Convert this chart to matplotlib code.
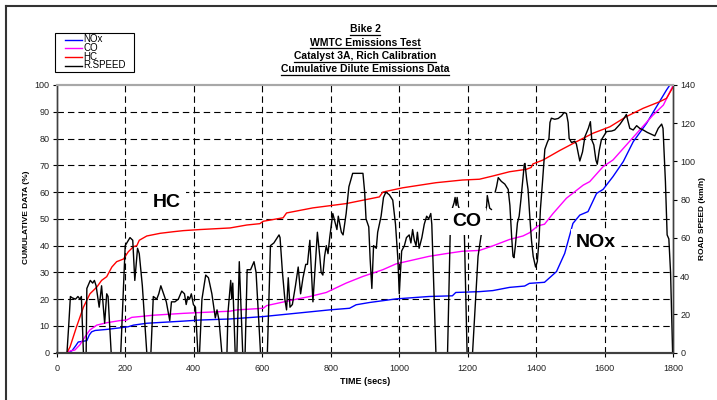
import numpy as np
import matplotlib
matplotlib.use("Agg")
import matplotlib.pyplot as plt
from matplotlib.lines import Line2D
from matplotlib.patches import Rectangle

plt.rcParams['font.family'] = ['Liberation Sans', 'DejaVu Sans']

# ---------------- data ----------------
title_lines = ["Bike 2", "WMTC Emissions Test", "Catalyst 3A, Rich Calibration",
               "Cumulative Dilute Emissions Data"]
series_names = ["NOx", "CO", "HC", "R.SPEED"]
series_colors = ['#0000FF', '#FF00FF', '#FF0000', 'black']

hc_t = [0, 30, 39, 58, 78, 97, 117, 131, 146, 161, 175, 195, 209, 224, 234, 241, 263, 302,
        341, 370, 418, 506, 555, 593, 603, 661, 671, 748, 845, 942, 952, 1010, 1107, 1184,
        1234, 1273, 1322, 1371, 1385, 1390, 1420, 1468, 1517, 1566, 1615, 1663, 1712, 1761,
        1780, 1800]
hc_v = [0, 0, 2.2, 9.7, 17, 22, 24.5, 27, 28.4, 32, 34, 35, 37.7, 39.6, 40, 42, 43.6, 44.6,
        45.2, 45.6, 46, 46.6, 47.7, 48.2, 49.1, 50.4, 52.2, 54.1, 55.7, 58.2, 60, 61.6, 63.5,
        64.5, 64.8, 66, 67.6, 68.5, 69.2, 70.5, 72, 75.5, 78.8, 82, 84.4, 88.2, 91.3, 93.8,
        95, 99.4]

co_t = [0, 30, 40, 53, 68, 83, 97, 117, 146, 185, 204, 219, 243, 282, 370, 418, 506, 526,
        554, 603, 613, 700, 739, 787, 845, 894, 952, 991, 1087, 1136, 1184, 1234, 1273, 1322,
        1361, 1380, 1405, 1424, 1449, 1488, 1537, 1556, 1595, 1624, 1663, 1702, 1741, 1771,
        1800]
co_v = [0, 0, 0.7, 1, 3, 6, 8.5, 10.3, 11.2, 12, 12.2, 13.2, 13.5, 14, 14.7, 15, 15.5, 16,
        16.2, 16.6, 17.6, 20, 21, 22.5, 26, 28.5, 31, 33.2, 36, 37, 37.9, 38.2, 39.9, 42.3,
        43.6, 44.8, 47.4, 48, 52, 57.7, 62.6, 63.9, 69.5, 72, 77.6, 83.2, 88.8, 92.5, 100]

nox_t = [0, 35, 45, 55, 63, 88, 95, 102, 112, 146, 185, 209, 224, 263, 370, 418, 506, 603,
         700, 797, 855, 874, 913, 991, 1087, 1155, 1165, 1233, 1273, 1322, 1366, 1380, 1424,
         1459, 1483, 1507, 1527, 1551, 1576, 1595, 1624, 1654, 1683, 1722, 1751, 1780, 1790,
         1800]
nox_v = [0, 0, 0.8, 2.5, 4, 4.5, 6.6, 7.8, 8.3, 8.7, 9.3, 9.7, 10.3, 11, 11.8, 12.2, 12.6,
         13.5, 14.75, 16, 16.6, 17.9, 18.75, 20.1, 21, 21.25, 22.5, 22.8, 23.2, 24.4, 24.9,
         25.9, 26.3, 30.3, 37.1, 48.3, 51.4, 52.7, 59.5, 61, 65.8, 71.4, 78.8, 85.7, 91.9,
         98.1, 100, 100]

# road speed, read in % of the left axis (converted to km/h below); NaN = gap in the trace
spd_t = [0, 30, 35, 40, 45, 55, 62, 68, 72, 78, 86, 88, 98, 105, 110, 115, 124, 131, 140,
         146, 150, 159, 187, 200, 214, 222, 228, 236, 241, 250, 263, 275, 282, 292, 298, 304,
         312, 320, 330, 335, 345, 355, 365, 373, 378, 383, 388, 393, 399, 405, 412, 417, 424,
         435, 443, 453, 463, 468, 474, 482, 497, 500, 508, 511, 514, 521, 526, 533, 543, 550,
         556, 566, 576, 582, 595, 615, 624, 634, 649, 652, 659, 666, 671, 676, 681, 688, 697,
         705, 712, 719, 727, 732, 739, 748, 761, 768, 772, 777, 782, 787, 792, 797, 806, 812,
         818, 822, 831, 836, 845, 853, 864, 894, 899, 903, 911, 915, 920, 925, 933, 937, 947,
         954, 961, 971, 981, 989, 996, 1000, 1007, 1015, 1021, 1029, 1034, 1039, 1044, 1049,
         1053, 1058, 1066, 1073, 1080, 1086, 1092, 1095, 1107, 1141, 1150, 1160, 1163,
         1166, 1169, 1172, 1180, 1190, 1198, 1214, 1230, 1238, 1248, 1255, 1257, 1264, 1269,
         1275, 1280, 1284, 1289, 1298, 1308, 1313, 1318, 1323, 1328, 1332, 1335, 1339, 1345,
         1350, 1355, 1360, 1365, 1367, 1372, 1376, 1381, 1386, 1391, 1398, 1403, 1408, 1412,
         1418, 1425, 1432, 1437, 1440, 1444, 1454, 1464, 1474, 1481, 1488, 1493, 1496, 1503,
         1512, 1517, 1527, 1535, 1542, 1552, 1558, 1562, 1568, 1574, 1578, 1584, 1590, 1600,
         1605, 1620, 1629, 1644, 1656, 1663, 1668, 1673, 1683, 1693, 1702, 1712, 1724, 1736,
         1746, 1756, 1766, 1770, 1777, 1782, 1787, 1792, 1798, 1800]
spd_pct = [0, 0, 10, 21, 20.5, 20, 21, 20, 21, 0, 0, 24, 27, 26, 27, 25, 17, 25, 11, 22, 21,
           0, 0, 40, 43, 42, 27, 39, 37, 25, 0, 0, 21, 20, 22, 25, 22, 19, 12, 19, 19, 20, 23,
           22, 18, 21, 20, 22, 18, 17, 0, 0, 20, 29, 28, 22, 13, 16, 12, 0, 0, 15, 27, 20, 26,
           0, 0, 34, 0, 0, 31, 31, 34, 30, 0, 0, 40, 41, 44, 43, 30, 20, 16, 28, 17, 18, 25, 32,
           22, 28, 33, 33, 42, 19, 45, 36, 30, 29, 36, 40, 37, 43, 52, 49, 46, 51, 45, 44, 52,
           62, 67, 67, 60, 50, 47, 35, 24, 40, 39, 45, 51, 58, 60, 59, 57, 48, 35, 22, 38, 40,
           43, 44, 41, 46, 42, 40, 45, 39, 43, 48, 51, 50, 52, 48, 0, 0, 52, 56, 58,
           55, 58, 55, 52, 45, 0, 0, 36, 43, 51, 54.7, 58.7, 54, 53.5, np.nan, 60, 62,
           65.4, 64, 63, 62, 61, 55, 43.5, 36, 35.5, 40, 48.5, 51, 57, 63.5, 70.4, 70.7, 64.7,
           61, 51, 42, 36, 32, 34, 42, 53.5, 63.5, 76, 78.5, 80, 86, 87.6, 87.2, 87.5, 88.5,
           89.7, 89.4, 86, 80, 78.5, 79, 78, 71.6, 75, 80.7, 83.8, 86.3, 79.5, 77.6, 72, 70.4,
           75.7, 79.5, 81.6, 82.6, 82.8, 83.2, 85.3, 87.5, 89, 86.3, 83.8, 83.2, 84.8, 83.8,
           83.2, 82.3, 81.6, 81, 83.8, 85.4, 83.8, 63.9, 44, 42.5, 30, 0, 0]
spd_v = [p * 1.4 for p in spd_pct]

left_ticks = list(range(0, 101, 10))
right_ticks = list(range(0, 141, 20))
x_ticks = list(range(0, 1801, 200))

# ---------------- figure ----------------
W, H = 717, 400
fig = plt.figure(figsize=(W / 100, H / 100), dpi=100)

def fx(px):
    return px / W

def fy(py):
    return 1 - py / H

L, R, T, B = 56.7, 673.3, 85, 352.7
ax = fig.add_axes([fx(L), fy(B), fx(R) - fx(L), fy(T) - fy(B)])
ax2 = ax.twinx()

ax.set_xlim(0, 1800)
ax.set_ylim(0, 100)
ax2.set_ylim(0, 140)

dash = (0, (5.8, 3.6))
for v in range(10, 100, 10):
    ax.axhline(v, color='black', lw=0.8, linestyle=dash, zorder=0.5)
for v in range(200, 1800, 200):
    ax.axvline(v, color='black', lw=0.8, linestyle=dash, zorder=0.5)

ax.plot(nox_t, nox_v, color=series_colors[0], lw=1.0, zorder=3)
ax.plot(co_t, co_v, color=series_colors[1], lw=1.0, zorder=3)
ax.plot(hc_t, hc_v, color=series_colors[2], lw=1.0, zorder=3)
ax2.plot(spd_t, spd_v, color=series_colors[3], lw=1.0, zorder=2)

ax.set_xticks(x_ticks)
ax.set_yticks(left_ticks)
ax2.set_yticks(right_ticks)
ax.set_xticklabels([str(v) for v in x_ticks])
for a in (ax, ax2):
    a.tick_params(labelsize=6.5, length=3, width=0.8, color='black', direction='out',
                  labelcolor='#222222', pad=2)
ax.tick_params(axis='x', pad=5)

for a in (ax, ax2):
    a.spines['top'].set_color('#a8a8a8')
    a.spines['top'].set_linewidth(1.5)
    a.spines['bottom'].set_color('#404040')
    a.spines['bottom'].set_linewidth(1.5)
    a.spines['left'].set_color('#404040')
    a.spines['left'].set_linewidth(1.0)
    a.spines['right'].set_color('#404040')
    a.spines['right'].set_linewidth(1.0)
ax2.patch.set_visible(False)

fig.text(fx(27), fy(217), "CUMULATIVE DATA (%)", rotation=90, ha='center', va='center',
         fontsize=6, fontweight='bold')
fig.text(fx(703), fy(219), "ROAD SPEED (km/h)", rotation=90, ha='center', va='center',
         fontsize=6, fontweight='bold')
fig.text(fx(365), fy(381.5), "TIME (secs)", ha='center', va='center', fontsize=6.5,
         fontweight='bold')

# curve annotations (white boxes hide the trace behind them)
box = dict(facecolor='white', edgecolor='none', pad=3.5)
fig.text(fx(167), fy(203), "HC", ha='center', va='center', fontsize=14, fontweight='bold',
         bbox=box)
fig.text(fx(467), fy(221.5), "CO", ha='center', va='center', fontsize=14, fontweight='bold',
         bbox=box)
fig.text(fx(596), fy(242.5), "NOx", ha='center', va='center', fontsize=14, fontweight='bold',
         bbox=box)

# title with underline
title_y = [29, 42.5, 56, 69.5]
title_objs = []
for s, y in zip(title_lines, title_y):
    title_objs.append(fig.text(fx(365), fy(y), s, ha='center', va='center', fontsize=7.5,
                               fontweight='bold'))

# legend (drawn by hand to match the box geometry)
fig.add_artist(Rectangle((fx(55), fy(72)), fx(134) - fx(55), fy(33) - fy(72),
                         facecolor='white', edgecolor='black', lw=0.8,
                         transform=fig.transFigure))
leg_y = [39.5, 48, 56.8, 65.5]
for name, col, y in zip(series_names, series_colors, leg_y):
    fig.add_artist(Line2D([fx(65), fx(82)], [fy(y), fy(y)], color=col, lw=1.0,
                          transform=fig.transFigure))
    fig.text(fx(83), fy(y), name, ha='left', va='center', fontsize=7)

# outer frame (left and top visible)
fig.add_artist(Line2D([fx(6), fx(6)], [fy(6), fy(400)], color='#333333', lw=1.5,
                      transform=fig.transFigure))
fig.add_artist(Line2D([fx(6), fx(717)], [fy(6), fy(6)], color='#333333', lw=1.5,
                      transform=fig.transFigure))

fig.canvas.draw()
r = fig.canvas.get_renderer()
for t in title_objs:
    bb = t.get_window_extent(r)
    yb = bb.y0 - 0.5
    fig.add_artist(Line2D([bb.x0 / W, bb.x1 / W], [yb / H, yb / H], color='black', lw=0.9,
                          transform=fig.transFigure))

fig.savefig("out.png", dpi=100)
